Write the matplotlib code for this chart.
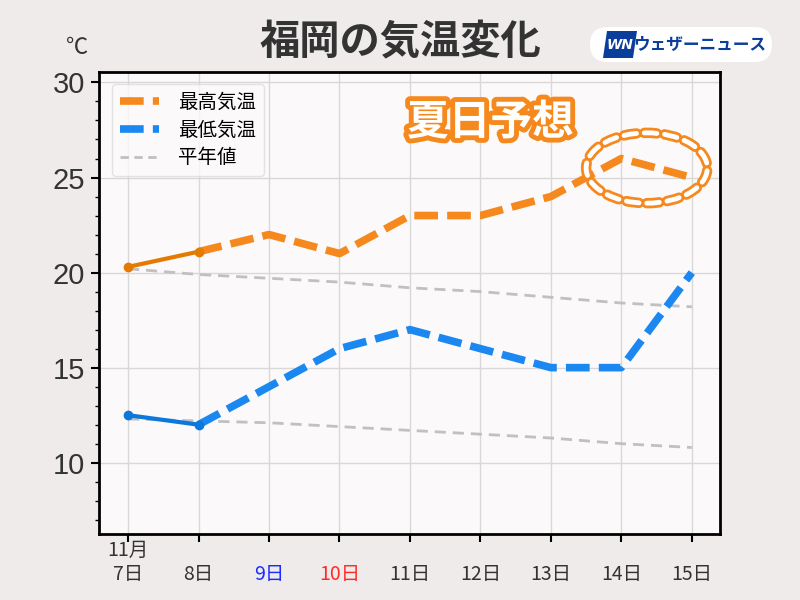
import numpy as np
import matplotlib.pyplot as plt
import matplotlib.patheffects as pe
from matplotlib.patches import Ellipse, FancyBboxPatch, Polygon

plt.rcParams['font.family'] = ['Noto Sans CJK JP', 'DejaVu Sans']

# データ
dias = [7, 8, 9, 10, 11, 12, 13, 14, 15]
rotulos = ['11月\n7日', '\n8日', '\n9日', '\n10日', '\n11日', '\n12日', '\n13日', '\n14日', '\n15日']
cores_rot = ['#333333', '#333333', '#1a2cff', '#ff2a2a', '#333333', '#333333', '#333333', '#333333', '#333333']
t_max = [20.3, 21.1, 22, 21, 23, 23, 24, 26, 25]
t_min = [12.5, 12.0, 14, 16, 17, 16, 15, 15, 20]
normal_max = [20.2, 19.9, 19.7, 19.5, 19.2, 19.0, 18.7, 18.4, 18.2]
normal_min = [12.3, 12.2, 12.1, 11.9, 11.7, 11.5, 11.3, 11.0, 10.8]

laranja = '#f5891e'
laranja_esc = '#e57a00'
azul = '#1a88f0'
azul_esc = '#0a78dc'
cinza = '#c0c0c0'

fig = plt.figure(figsize=(8, 6), dpi=100, facecolor='#eeebea')
ax = fig.add_axes([0.124, 0.11, 0.776, 0.77], facecolor='#fbf9fa')

# normais
ax.plot(dias, normal_max, color=cinza, lw=2, dashes=(4, 2.5))
ax.plot(dias, normal_min, color=cinza, lw=2, dashes=(4, 2.5))

# observado (linha solida)
ax.plot(dias[:2], t_max[:2], color=laranja_esc, lw=3, marker='o', ms=6, zorder=5)
ax.plot(dias[:2], t_min[:2], color=azul_esc, lw=3, marker='o', ms=6, zorder=5)

# previsao (tracejado)
ax.plot(dias[1:], t_max[1:], color=laranja, lw=5.5, dashes=(3.1, 1.2), zorder=4, label='最高気温')
ax.plot(dias[1:], t_min[1:], color=azul, lw=5.5, dashes=(3.1, 1.2), zorder=4, label='最低気温')
ax.plot([], [], color=cinza, lw=2, dashes=(3, 2), label='平年値')

ax.set_xlim(6.59, 15.4)
ax.set_ylim(6.25, 30.55)
ax.set_yticks([10, 15, 20, 25, 30])
ax.set_yticks(np.arange(7, 31, 1), minor=True)
ax.set_xticks(dias)
ax.set_xticklabels(rotulos, fontsize=14, linespacing=1.2)
for lbl, c in zip(ax.get_xticklabels(), cores_rot):
    lbl.set_color(c)
ax.tick_params(axis='y', labelsize=21, labelcolor='#333333', length=6, width=1.5, pad=4)
ax.tick_params(axis='y', which='minor', length=3, width=1)
for lbl in ax.get_yticklabels():
    lbl.set_family('Liberation Sans')
ax.tick_params(axis='x', length=6, width=1.5, pad=-2)
ax.grid(True, color='#d8d8d8', lw=1)
ax.set_axisbelow(True)
for s in ax.spines.values():
    s.set_linewidth(2)
    s.set_color('black')

leg = ax.legend(loc='upper left', fontsize=14, frameon=True, handlelength=2.0,
                borderpad=0.4, labelspacing=0.35, handletextpad=1.0,
                bbox_to_anchor=(0.005, 0.995))
leg.get_frame().set_edgecolor('#dddddd')
leg.get_frame().set_facecolor('#fbf9fa')

# elipse destacando o dia 14-15
el = Ellipse((14.36, 25.5), 1.72, 3.7, fill=False, edgecolor='white', lw=3.5,
             linestyle=(0, (2.6, 1.6)), zorder=6, capstyle='round')
el.set_path_effects([pe.Stroke(linewidth=7.5, foreground=laranja), pe.Normal()])
ax.add_patch(el)

ax.text(0.63, 0.89, '夏日予想', transform=ax.transAxes, fontsize=30, fontweight='bold',
        color='white', ha='center', va='center', zorder=7,
        path_effects=[pe.withStroke(linewidth=7, foreground=laranja)])

# titulo
fig.text(0.5, 0.928, '福岡の気温変化', fontsize=29, fontweight='bold', color='#333333',
         ha='center', va='center')
fig.text(0.097, 0.92, '℃', fontsize=16, color='#333333', ha='center', va='center')

# logo
lax = fig.add_axes([590 / 800, 1 - 62 / 600, 182 / 800, 35 / 600])
lax.set_xlim(0, 182)
lax.set_ylim(0, 35)
lax.axis('off')
lax.add_patch(FancyBboxPatch((0, 0), 182, 35, boxstyle='round,pad=0,rounding_size=17.5',
                             facecolor='white', edgecolor='none'))
lax.add_patch(Polygon([[13, 4], [43, 4], [47, 31], [17, 31]], closed=True, facecolor='#0b3d9a'))
lax.text(30, 17, 'WN', fontsize=10, fontweight='bold', style='italic', color='white',
         ha='center', va='center', family='DejaVu Sans')
lax.text(110, 17, 'ウェザーニュース', fontsize=12, fontweight='bold', color='#0b3d9a',
         ha='center', va='center')

fig.savefig('out.png', dpi=100, facecolor=fig.get_facecolor())
